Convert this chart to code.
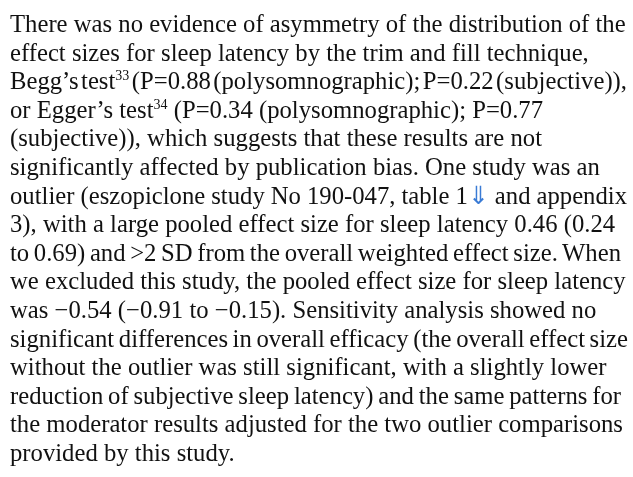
import React, { useLayoutEffect, useRef } from "react";

const lines: any[][] = [
  ["There was no evidence of asymmetry of the distribution of the"],
  ["effect sizes for sleep latency by the trim and fill technique,"],
  ["Begg’s test", { sup: "33" }, " (P=0.88 (polysomnographic); P=0.22 (subjective)),"],
  ["or Egger’s test", { sup: "34" }, " (P=0.34 (polysomnographic); P=0.77"],
  ["(subjective)), which suggests that these results are not"],
  ["significantly affected by publication bias. One study was an"],
  ["outlier (eszopiclone study No 190-047, table 1", { arrow: "⇓" }, " and appendix"],
  ["3), with a large pooled effect size for sleep latency 0.46 (0.24"],
  ["to 0.69) and >2 SD from the overall weighted effect size. When"],
  ["we excluded this study, the pooled effect size for sleep latency"],
  ["was −0.54 (−0.91 to −0.15). Sensitivity analysis showed no"],
  ["significant differences in overall efficacy (the overall effect size"],
  ["without the outlier was still significant, with a slightly lower"],
  ["reduction of subjective sleep latency) and the same patterns for"],
  ["the moderator results adjusted for the two outlier comparisons"],
  ["provided by this study."],
];

// maximum right edge (px) of each line; tighter word spacing when the line would run past it
const MAX_RIGHT = 627;
const lineRight: Record<number, number> = { 2: 627, 8: 621, 11: 628, 13: 621 };

export default function App() {
  const refs = useRef<(HTMLSpanElement | null)[]>([]);

  useLayoutEffect(() => {
    refs.current.forEach((el, i) => {
      if (!el) return;
      el.style.wordSpacing = "0px";
      const target = lineRight[i] ?? MAX_RIGHT;
      const right = el.getBoundingClientRect().right;
      if (right > target) {
        const text = el.textContent || "";
        const spaces = (text.match(/ /g) || []).length;
        if (spaces > 0) el.style.wordSpacing = `${(target - right) / spaces}px`;
      }
    });
  }, []);

  return (
    <div
      style={{
        position: "fixed",
        left: "10px",
        top: "10px",
        fontFamily: '"Liberation Serif", "Times New Roman", serif',
        fontSize: "24.7px",
        lineHeight: "28.6px",
        color: "#111",
        whiteSpace: "nowrap",
      }}
    >
      {lines.map((parts, i) => (
        <div key={i}>
          <span ref={(el) => { refs.current[i] = el; }}>
            {parts.map((p: any, j: number) =>
              typeof p === "string" ? (
                <span key={j}>{p}</span>
              ) : p.sup ? (
                <sup key={j} style={{ fontSize: "14px", lineHeight: 0 }}>
                  {p.sup}
                </sup>
              ) : (
                <span key={j} style={{ color: "#3a7bd5" }}>
                  {p.arrow}
                </span>
              )
            )}
          </span>
        </div>
      ))}
    </div>
  );
}
